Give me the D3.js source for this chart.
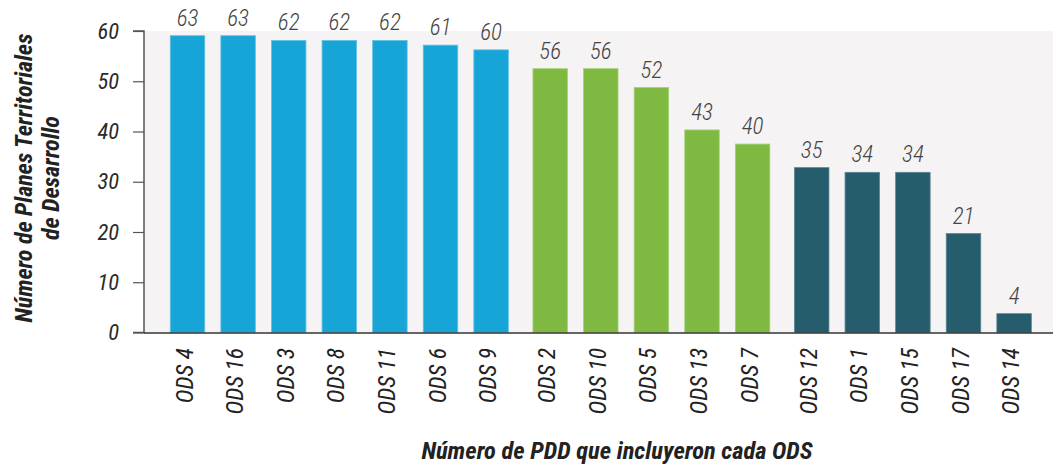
<!DOCTYPE html>
<html><head><meta charset="utf-8">
<script src="https://cdn.jsdelivr.net/npm/d3@7"></script>
<style>
html,body{margin:0;padding:0;background:#fff;}
svg text{font-family:"Roboto Condensed","Liberation Sans Narrow","Roboto",sans-serif;font-style:italic;}
</style></head>
<body>
<svg id="chart" width="1053" height="466"></svg>
<script>
const categories = ["ODS 4","ODS 16","ODS 3","ODS 8","ODS 11","ODS 6","ODS 9","ODS 2","ODS 10","ODS 5","ODS 13","ODS 7","ODS 12","ODS 1","ODS 15","ODS 17","ODS 14"];
const values = [63,63,62,62,62,61,60,56,56,52,43,40,35,34,34,21,4];
const groups = [0,0,0,0,0,0,0,1,1,1,1,1,2,2,2,2,2];
const groupColors = ["#17a5d8","#7fb942","#255d6d"];
const groupStroke = ["#62c2e6","#a6d27a","#5b8794"];
const yTickValues = [0,10,20,30,40,50,60];
const yTitleLines = ["Número de Planes Territoriales","de Desarrollo"];
const xTitle = "Número de PDD que incluyeron cada ODS";

(function(){
const FONT = '"Roboto Condensed","Liberation Sans Narrow","Roboto",sans-serif';
const svg = d3.select("#chart");
const mLeft = 144, mRight = 1053, mTop = 31, mBottom = 332.5;

svg.append("rect").attr("x",mLeft).attr("y",mTop).attr("width",mRight-mLeft).attr("height",mBottom-mTop).attr("fill","#f5f3f4");

const step = 50.6, gap = 8.5, firstCenter = 187.5;
const x = d3.scaleLinear().domain([0,1]).range([firstCenter, firstCenter+step]);
const slot = (i) => i + groups[i]*gap/step;
const barW = 34.5;

const y = d3.scaleLinear().domain([0,64]).range([mBottom, mTop]);
const yAxisScale = d3.scaleLinear().domain([0,60]).range([mBottom, mTop]);

svg.append("g").selectAll("rect").data(values).join("rect")
  .attr("x",(d,i)=>x(slot(i))-barW/2)
  .attr("y",d=>y(d))
  .attr("width",barW)
  .attr("height",d=>mBottom-y(d))
  .attr("fill",(d,i)=>groupColors[groups[i]])
  .attr("stroke",(d,i)=>groupStroke[groups[i]])
  .attr("stroke-width",0.8);

svg.append("g").selectAll("text").data(values).join("text")
  .attr("x",(d,i)=>x(slot(i)))
  .attr("y",d=>y(d)-10)
  .attr("text-anchor","middle")
  .attr("font-size",23)
  .attr("font-weight",300)
  .attr("fill","#444")
  .text(d=>d);

const yAxis = d3.axisLeft(yAxisScale).tickValues(yTickValues).tickSize(11).tickPadding(14);
const ga = svg.append("g").attr("transform",`translate(${mLeft},0)`).call(yAxis);
ga.select(".domain").attr("stroke","#555").attr("stroke-width",1.5).attr("d",`M-11,${mTop}H0V${mBottom}H-11`);
ga.selectAll(".tick line").attr("stroke","#555").attr("stroke-width",1.2);
ga.selectAll(".tick text").attr("font-size",22.5).attr("fill","#2a2a2a").attr("font-weight",400)
  .style("font-family",FONT).style("font-style","italic");

svg.append("line").attr("x1",mLeft).attr("x2",mRight).attr("y1",mBottom+0.5).attr("y2",mBottom+0.5)
  .attr("stroke","#333").attr("stroke-width",1.5);

svg.append("g").selectAll("text").data(categories).join("text")
  .attr("transform",(d,i)=>`translate(${x(slot(i))+5},348) rotate(-90)`)
  .attr("text-anchor","end")
  .attr("font-size",23.5)
  .attr("fill","#222")
  .text(d=>d);

svg.append("text").attr("x",617).attr("y",459).attr("text-anchor","middle")
  .attr("font-size",24.5).attr("font-weight","bold").attr("fill","#222").text(xTitle);

const yt = svg.append("text").attr("transform","translate(0,178) rotate(-90)")
  .attr("text-anchor","middle").attr("font-size",24).attr("font-weight","bold").attr("fill","#222");
yTitleLines.forEach((t,i)=>{
  yt.append("tspan").attr("x",0).attr("y", i===0 ? 32 : 59).text(t);
});
})();
</script>
</body></html>
